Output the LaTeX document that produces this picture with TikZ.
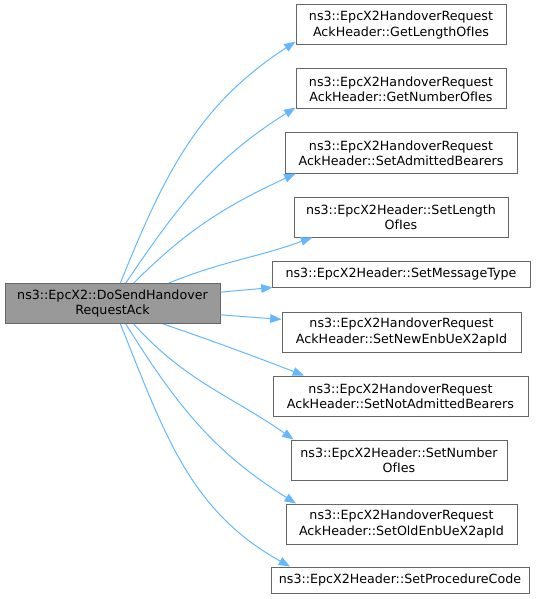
\documentclass[tikz,border=0pt]{standalone}
\usepackage{fontspec}
\setmainfont{DejaVu Sans}
\usetikzlibrary{arrows.meta}

\definecolor{edgeblue}{HTML}{63B8FF}
\definecolor{curgray}{HTML}{999999}
\definecolor{boxline}{HTML}{666666}

\begin{document}
\begin{tikzpicture}[
  x=0.75pt, y=0.75pt,
  fn/.style={draw=boxline, line width=0.75pt, fill=white, align=center, inner xsep=2pt, inner ysep=1pt, minimum height=30pt, font=\fontsize{9.5}{11.5}\selectfont},
  one/.style={minimum height=19.5pt},
  cur/.style={fn, fill=curgray},
  call/.style={-{Triangle[length=8.5pt, width=6.5pt]}, draw=edgeblue, line width=0.75pt}
]
\useasboundingbox (0,0) rectangle (540,-599);

% --- caller ---
\node[cur, minimum width=161.25pt] (main) at (112.5,-303.5) {ns3::EpcX2::DoSendHandover\\RequestAck};

% --- callees ---
\node[fn, minimum width=157.5pt] (gli) at (401,-25) {ns3::EpcX2HandoverRequest\\AckHeader::GetLengthOfIes};
\node[fn, minimum width=157.5pt] (gni) at (401,-89) {ns3::EpcX2HandoverRequest\\AckHeader::GetNumberOfIes};
\node[fn, minimum width=174pt] (sab) at (401,-153) {ns3::EpcX2HandoverRequest\\AckHeader::SetAdmittedBearers};
\node[fn, minimum width=160.5pt] (sli) at (401,-217) {ns3::EpcX2Header::SetLength\\OfIes};
\node[fn, one, minimum width=193.5pt] (smt) at (401,-274) {ns3::EpcX2Header::SetMessageType};
\node[fn, minimum width=179.25pt] (sne) at (401.5,-332) {ns3::EpcX2HandoverRequest\\AckHeader::SetNewEnbUeX2apId};
\node[fn, minimum width=191.25pt] (sna) at (400.5,-396) {ns3::EpcX2HandoverRequest\\AckHeader::SetNotAdmittedBearers};
\node[fn, minimum width=162pt] (snu) at (399,-460) {ns3::EpcX2Header::SetNumber\\OfIes};
\node[fn, minimum width=173.25pt] (soe) at (401.5,-524) {ns3::EpcX2HandoverRequest\\AckHeader::SetOldEnbUeX2apId};
\node[fn, one, minimum width=193.5pt] (spc) at (400,-580) {ns3::EpcX2Header::SetProcedureCode};

% --- calls ---
\draw[call] (main.69) to[out=68, in=213] (gli.189);
\draw[call] (main.57) to[out=56, in=212] (gni.190);
\draw[call] (main.44) to[out=45, in=205] (sab.191);
\draw[call] (main.20) to[out=22, in=200] (sli.193);
\draw[call] (main.6) -- (smt.186);
\draw[call] (main.-6) -- (sne.174);
\draw[call] (main.-22) to[out=-19, in=159] (sna.168);
\draw[call] (main.-44) to[out=-48, in=145] (snu.169);
\draw[call] (main.-57) to[out=-58, in=148] (soe.169);
\draw[call] (main.-69) to[out=-68, in=151] (spc.173);
\end{tikzpicture}
\end{document}
